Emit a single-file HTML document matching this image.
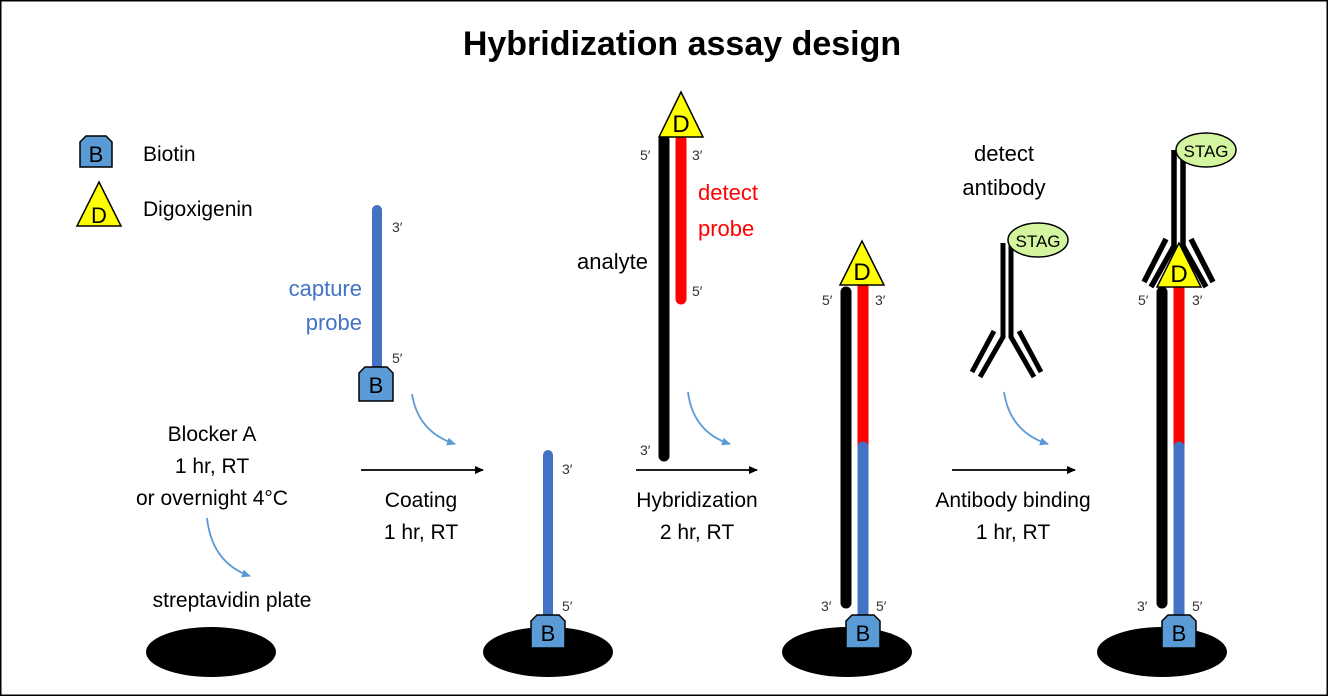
<!DOCTYPE html>
<html><head><meta charset="utf-8"><style>
html,body{margin:0;padding:0;background:#fff}
svg{display:block}
text{font-family:"Liberation Sans",sans-serif}
</style></head><body>
<svg width="1328" height="696" viewBox="0 0 1328 696" xmlns="http://www.w3.org/2000/svg">
<defs>
<marker id="ab" markerWidth="10" markerHeight="10" refX="8" refY="5" orient="auto" markerUnits="userSpaceOnUse"><path d="M0,1 L9,5 L0,9 z" fill="#000"/></marker>
<marker id="ablue" markerWidth="10" markerHeight="10" refX="8" refY="5" orient="auto" markerUnits="userSpaceOnUse"><path d="M0,1 L9,5 L0,9 z" fill="#5B9BD5"/></marker>
</defs>
<rect x="0.5" y="0.5" width="1327" height="695" fill="#fff" stroke="#000" stroke-width="2"/>
<text x="682" y="55" font-size="34" font-weight="bold" text-anchor="middle">Hybridization assay design</text>

<!-- legend -->
<path d="M80,142 L86,136 L106,136 L112,142 L112,167 L80,167 Z" fill="#5B9BD5" stroke="#000" stroke-width="1.5"/>
<text x="96" y="162" font-size="22" text-anchor="middle">B</text>
<text x="143" y="161" font-size="21">Biotin</text>
<path d="M99,182 L121,226 L77,226 Z" fill="#ffff00" stroke="#000" stroke-width="1.5"/>
<text x="99" y="223" font-size="22" text-anchor="middle">D</text>
<text x="143" y="216" font-size="21">Digoxigenin</text>

<!-- capture probe -->
<line x1="377" y1="210" x2="377" y2="368" stroke="#4472C4" stroke-width="10" stroke-linecap="round"/>
<path d="M359,373 L365,367 L387,367 L393,373 L393,401 L359,401 Z" fill="#5B9BD5" stroke="#000" stroke-width="1.5"/>
<text x="376" y="393" font-size="22" text-anchor="middle">B</text>
<text x="392" y="232" font-size="14" fill="#333">3′</text>
<text x="392" y="363" font-size="14" fill="#333">5′</text>
<text x="362" y="296" font-size="22" fill="#4472C4" text-anchor="end">capture</text>
<text x="362" y="330" font-size="22" fill="#4472C4" text-anchor="end">probe</text>

<!-- blocker -->
<text x="212" y="441" font-size="21" text-anchor="middle">Blocker A</text>
<text x="212" y="473" font-size="21" text-anchor="middle">1 hr, RT</text>
<text x="212" y="505" font-size="21" text-anchor="middle">or overnight 4°C</text>
<text x="232" y="607" font-size="21" text-anchor="middle">streptavidin plate</text>

<!-- curved arrows -->
<g fill="none" stroke="#5B9BD5" stroke-width="1.8">
<path d="M207,518 Q212,563 250,576" marker-end="url(#ablue)"/>
<path d="M412,394 Q418,432 455,444" marker-end="url(#ablue)"/>
<path d="M688,392 Q693,432 730,444" marker-end="url(#ablue)"/>
<path d="M1004,392 Q1010,432 1048,444" marker-end="url(#ablue)"/>
</g>

<!-- black arrows -->
<g stroke="#000" stroke-width="1.8">
<line x1="361" y1="470" x2="483" y2="470" marker-end="url(#ab)"/>
<line x1="636" y1="470" x2="757" y2="470" marker-end="url(#ab)"/>
<line x1="952" y1="470" x2="1075" y2="470" marker-end="url(#ab)"/>
</g>
<text x="421" y="507" font-size="21" text-anchor="middle">Coating</text>
<text x="421" y="539" font-size="21" text-anchor="middle">1 hr, RT</text>
<text x="697" y="507" font-size="21" text-anchor="middle">Hybridization</text>
<text x="697" y="539" font-size="21" text-anchor="middle">2 hr, RT</text>
<text x="1013" y="507" font-size="21" text-anchor="middle">Antibody binding</text>
<text x="1013" y="539" font-size="21" text-anchor="middle">1 hr, RT</text>

<!-- plates -->
<ellipse cx="211" cy="652" rx="65" ry="25"/>
<ellipse cx="548" cy="652" rx="65" ry="25"/>
<ellipse cx="847" cy="652" rx="65" ry="25"/>
<ellipse cx="1162" cy="652" rx="65" ry="25"/>

<!-- step 2 -->
<line x1="548" y1="455" x2="548" y2="618" stroke="#4472C4" stroke-width="10" stroke-linecap="round"/>
<path d="M531,621 L537,615 L559,615 L565,621 L565,648 L531,648 Z" fill="#5B9BD5" stroke="#000" stroke-width="1.5"/>
<text x="548" y="641" font-size="22" text-anchor="middle">B</text>
<text x="562" y="474" font-size="14" fill="#333">3′</text>
<text x="562" y="611" font-size="14" fill="#333">5′</text>

<!-- step 3 -->
<line x1="664" y1="140" x2="664" y2="456" stroke="#000" stroke-width="11" stroke-linecap="round"/>
<line x1="681" y1="140" x2="681" y2="299" stroke="#f00" stroke-width="11" stroke-linecap="round"/>
<path d="M681,92 L703,137 L659,137 Z" fill="#ffff00" stroke="#000" stroke-width="1.5"/>
<text x="681" y="132" font-size="24" text-anchor="middle">D</text>
<text x="640" y="160" font-size="14" fill="#333">5′</text>
<text x="692" y="160" font-size="14" fill="#333">3′</text>
<text x="692" y="296" font-size="14" fill="#333">5′</text>
<text x="640" y="455" font-size="14" fill="#333">3′</text>
<text x="698" y="200" font-size="22" fill="#f00">detect</text>
<text x="698" y="236" font-size="22" fill="#f00">probe</text>
<text x="648" y="269" font-size="22" text-anchor="end">analyte</text>

<!-- step 4 -->
<line x1="846" y1="292" x2="846" y2="603" stroke="#000" stroke-width="11" stroke-linecap="round"/>
<line x1="863" y1="285" x2="863" y2="452" stroke="#f00" stroke-width="11"/>
<line x1="863" y1="452" x2="863" y2="618" stroke="#4472C4" stroke-width="11"/>
<line x1="863" y1="447" x2="863" y2="455" stroke="#4472C4" stroke-width="11" stroke-linecap="round"/>
<path d="M862,241 L884,285 L840,285 Z" fill="#ffff00" stroke="#000" stroke-width="1.5"/>
<text x="862" y="280" font-size="24" text-anchor="middle">D</text>
<text x="822" y="305" font-size="14" fill="#333">5′</text>
<text x="875" y="305" font-size="14" fill="#333">3′</text>
<text x="821" y="611" font-size="14" fill="#333">3′</text>
<text x="876" y="611" font-size="14" fill="#333">5′</text>
<path d="M846,621 L852,615 L874,615 L880,621 L880,648 L846,648 Z" fill="#5B9BD5" stroke="#000" stroke-width="1.5"/>
<text x="863" y="641" font-size="22" text-anchor="middle">B</text>

<!-- free antibody -->
<text x="1004" y="161" font-size="22" text-anchor="middle">detect</text>
<text x="1004" y="195" font-size="22" text-anchor="middle">antibody</text>
<g stroke="#000" stroke-width="5" fill="none" stroke-linecap="butt">
<path d="M1003,243 L1003,337 L980,377"/>
<path d="M1011,245 L1011,337 L1034,377"/>
<line x1="994" y1="331" x2="972" y2="372"/>
<line x1="1019" y1="331" x2="1041" y2="372"/>
</g>
<ellipse cx="1038" cy="240" rx="30" ry="17" fill="#d4f5a0" stroke="#000" stroke-width="1.5"/>
<text x="1038" y="247" font-size="17" text-anchor="middle">STAG</text>

<!-- step 5 -->
<line x1="1162" y1="292" x2="1162" y2="603" stroke="#000" stroke-width="11" stroke-linecap="round"/>
<line x1="1179" y1="285" x2="1179" y2="452" stroke="#f00" stroke-width="11"/>
<line x1="1179" y1="452" x2="1179" y2="618" stroke="#4472C4" stroke-width="11"/>
<line x1="1179" y1="447" x2="1179" y2="455" stroke="#4472C4" stroke-width="11" stroke-linecap="round"/>
<g stroke="#000" stroke-width="5.5" fill="none">
<path d="M1174,150 L1174,246 L1151,287"/>
<path d="M1183,152 L1183,246 L1206,287"/>
<line x1="1166" y1="239" x2="1144" y2="282"/>
<line x1="1191" y1="239" x2="1213" y2="282"/>
</g>
<path d="M1179,243 L1201,287 L1157,287 Z" fill="#ffff00" stroke="#000" stroke-width="1.5"/>
<text x="1179" y="282" font-size="24" text-anchor="middle">D</text>
<ellipse cx="1206" cy="150" rx="30" ry="17" fill="#d4f5a0" stroke="#000" stroke-width="1.5"/>
<text x="1206" y="157" font-size="17" text-anchor="middle">STAG</text>
<text x="1138" y="305" font-size="14" fill="#333">5′</text>
<text x="1192" y="305" font-size="14" fill="#333">3′</text>
<text x="1137" y="611" font-size="14" fill="#333">3′</text>
<text x="1192" y="611" font-size="14" fill="#333">5′</text>
<path d="M1162,621 L1168,615 L1190,615 L1196,621 L1196,648 L1162,648 Z" fill="#5B9BD5" stroke="#000" stroke-width="1.5"/>
<text x="1179" y="641" font-size="22" text-anchor="middle">B</text>
</svg>
</body></html>
